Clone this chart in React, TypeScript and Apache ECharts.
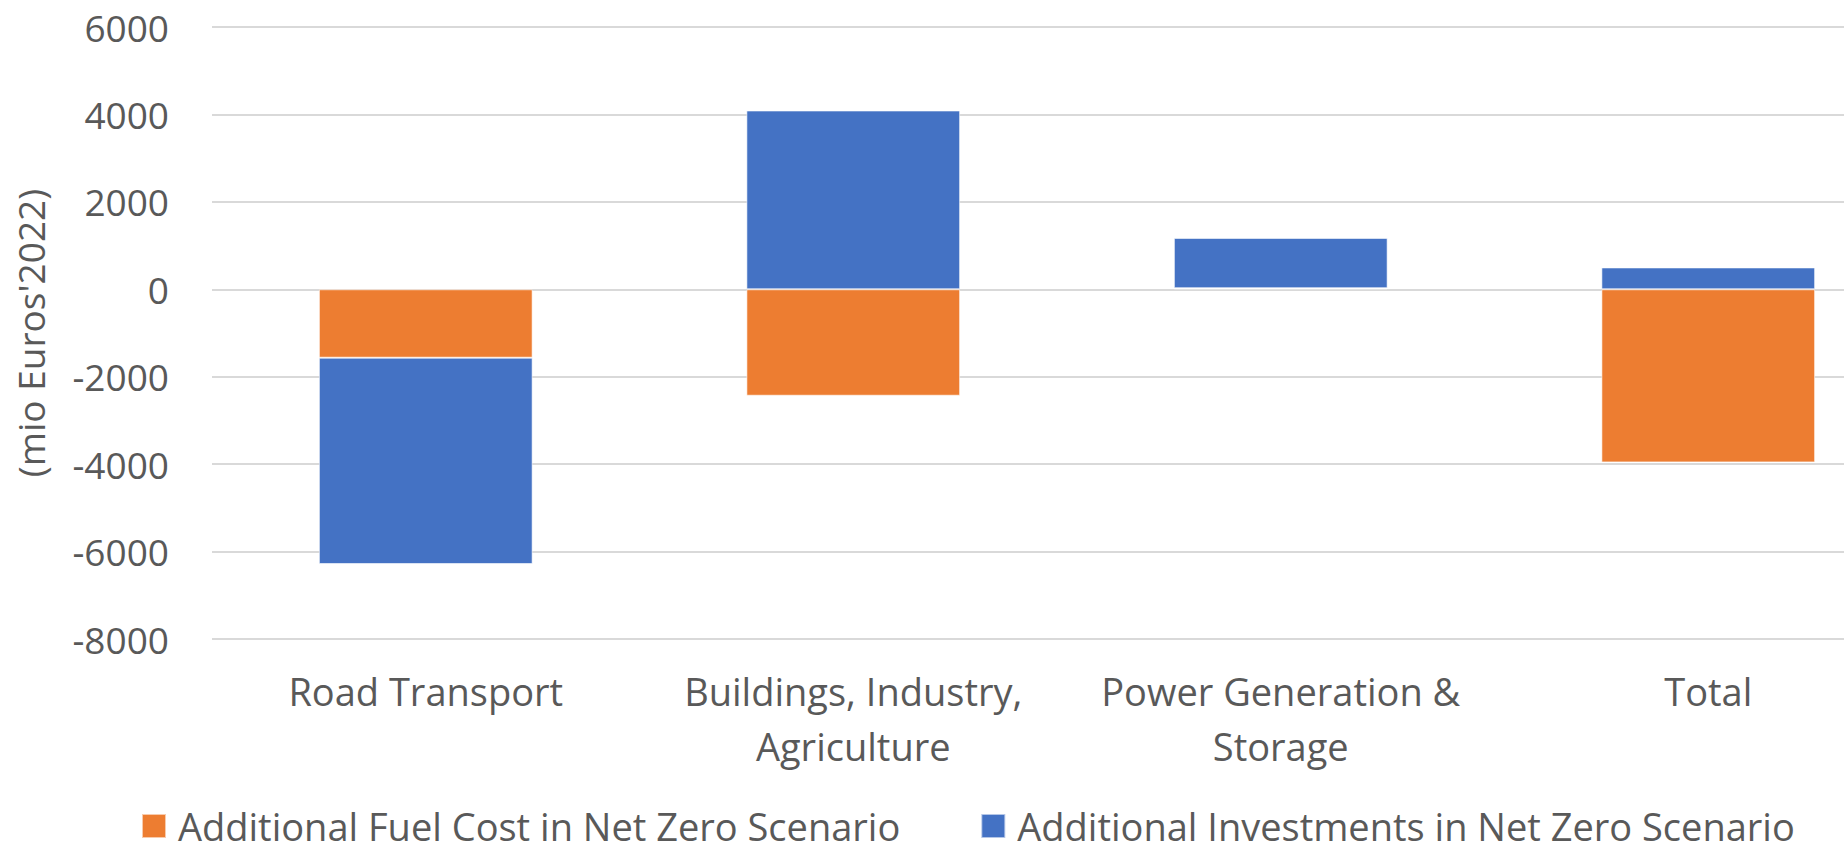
import React, { useEffect, useRef } from "react";
import * as echarts from "echarts";

const categories = [
  "Road Transport",
  "Buildings, Industry,\nAgriculture",
  "Power Generation &\nStorage",
  "Total",
];
const fuelCost = [-1565, -2435, 25, -3960];
const investments = [-4720, 4090, 1150, 500];
const yTicks = { min: -8000, max: 6000, interval: 2000 };
const seriesNames = [
  "Additional Fuel Cost in Net Zero Scenario",
  "Additional Investments in Net Zero Scenario",
];
const axisTitle = "(mio Euros'2022)";

const FONT = "'Open Sans', 'Noto Sans', sans-serif";
const TEXT = "#595959";
const FS = 38;

export default function App() {
  const ref = useRef<HTMLDivElement>(null);
  useEffect(() => {
    if (!ref.current) return;
    const chart = echarts.init(ref.current, undefined, { renderer: "svg" });
    chart.setOption({
      animation: false,
      backgroundColor: "#ffffff",
      textStyle: { fontFamily: FONT, color: TEXT },
      grid: { left: 212, top: 27, height: 612, width: 1710, containLabel: false },
      legend: {
        left: 141,
        top: 807,
        padding: 0,
        itemWidth: 24,
        itemHeight: 24,
        itemGap: 80,
        icon: "rect",
        textStyle: {
          fontFamily: FONT,
          fontSize: FS,
          lineHeight: 36,
          color: TEXT,
          padding: [0, 0, 0, 7],
        },
        data: seriesNames,
      },
      xAxis: {
        type: "category",
        data: categories,
        position: "bottom",
        axisLine: { show: false, onZero: false },
        axisTick: { show: false },
        axisLabel: {
          fontFamily: FONT,
          fontSize: FS,
          color: TEXT,
          lineHeight: 55,
          margin: 24,
          interval: 0,
        },
      },
      yAxis: {
        type: "value",
        min: yTicks.min,
        max: yTicks.max,
        interval: yTicks.interval,
        name: axisTitle,
        nameLocation: "middle",
        nameGap: 163,
        nameTextStyle: { fontFamily: FONT, fontSize: 37, color: TEXT },
        axisLine: { show: false },
        axisTick: { show: false },
        axisLabel: {
          fontFamily: FONT,
          fontSize: 37,
          color: TEXT,
          margin: 43,
          formatter: (v: number) => String(v),
        },
        splitLine: { lineStyle: { color: "#D9D9D9", width: 2 } },
      },
      series: [
        {
          name: seriesNames[0],
          type: "bar",
          stack: "total",
          barWidth: "50%",
          data: fuelCost,
          itemStyle: { color: "#ED7D31", borderColor: "rgba(255,255,255,0.6)", borderWidth: 1 },
        },
        {
          name: seriesNames[1],
          type: "bar",
          stack: "total",
          barWidth: "50%",
          data: investments,
          itemStyle: { color: "#4472C4", borderColor: "rgba(255,255,255,0.6)", borderWidth: 1 },
        },
      ],
    });
    return () => chart.dispose();
  }, []);
  return (
    <div
      style={{
        position: "fixed",
        left: 0,
        top: 0,
        width: 1844,
        height: 845,
        overflow: "hidden",
        background: "#fff",
      }}
    >
      <div ref={ref} style={{ width: 1922, height: 845 }} />
    </div>
  );
}
